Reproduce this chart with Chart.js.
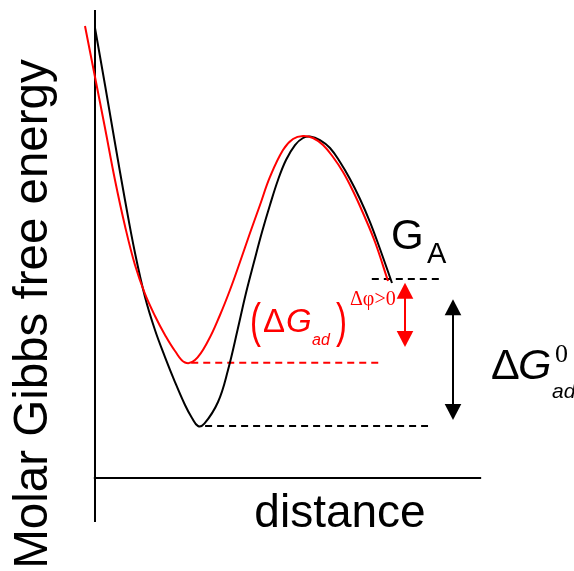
<!DOCTYPE html>
<html><head><meta charset="utf-8">
<script src="https://cdn.jsdelivr.net/npm/chart.js@4"></script>
<style>html,body{margin:0;padding:0;background:#fff;overflow:hidden}#wrap{width:574px;height:571px;position:relative}</style>
</head><body><div id="wrap"><canvas id="c"></canvas></div>
<script>
// ---- data (arbitrary units: distance 0..100 along the x axis, energy 0..100 along the y axis)
const distanceBlack = [0, 2.60, 5.19, 7.79, 10.39, 12.99, 15.58, 18.18, 20.78, 23.38, 25.19, 26.75, 28.40, 31.95, 34.55, 37.14, 39.22, 41.30, 43.38, 45.45, 47.53, 49.61, 51.95, 54.03, 55.84, 58.44, 61.04, 63.64, 66.23, 68.83, 71.43, 74.03, 77.14];
const energyBlack   = [96.15, 83.97, 71.58, 59.40, 48.08, 38.68, 31.62, 25.85, 20.51, 15.60, 12.82, 11.11, 11.60, 16.24, 23.08, 32.05, 39.53, 46.15, 52.56, 58.33, 63.68, 67.95, 71.15, 72.65, 72.97, 72.22, 70.51, 67.52, 63.89, 59.62, 54.70, 48.93, 41.67];
const distanceRed   = [-2.60, 0, 2.60, 5.19, 7.79, 10.39, 12.99, 15.58, 18.18, 20.78, 23.38, 25.97, 29.35, 32.47, 35.06, 37.66, 40.26, 42.86, 45.45, 48.83, 51.43, 54.03, 56.62, 59.22, 61.82, 64.42, 67.01, 69.61, 72.73, 76.10];
const energyRed     = [96.58, 85.68, 74.79, 63.68, 53.85, 45.51, 39.32, 34.62, 30.56, 27.14, 24.68, 25.21, 29.27, 34.83, 40.17, 46.15, 52.35, 58.33, 64.32, 70.09, 72.44, 73.08, 72.65, 71.15, 68.59, 65.38, 61.32, 56.62, 50.43, 42.09];

// dashed reference levels
const levelNames  = ['G_A', 'dG_ad(dphi>0)', 'dG0_ad'];
const levelEnergy = [42.5, 24.64, 11.11];
const levelStart  = [71.9, 25.0, 28.6];
const levelEnd    = [90.4, 74.8, 86.5];

// double arrows
const arrowNames    = ['dG_ad(dphi>0)', 'dG0_ad'];
const arrowDistance = [80.5, 93.0];
const arrowTop      = [41.7, 38.2];
const arrowBottom   = [28.0, 12.4];

// axis lines
const axisYDistance = [0, 0];
const axisYEnergy   = [-9.4, 100];
const axisXDistance = [-0.3, 100.3];
const axisXEnergy   = [0, 0];

// visible window
const X_MIN = -24.675, X_MAX = 124.416;
const Y_MIN = -19.872, Y_MAX = 102.137;

const zip = (xs, ys) => xs.map((x, i) => ({x, y: ys[i]}));
const RED = '#ff0000', BLACK = '#000000';
const levelColors = [BLACK, RED, BLACK];
const arrowColors = [RED, BLACK];

const datasets = [];
levelNames.forEach((n, i) => datasets.push({
  label: n, data: zip([levelStart[i], levelEnd[i]], [levelEnergy[i], levelEnergy[i]]),
  borderColor: levelColors[i], borderWidth: 2, borderDash: [7, 5], pointRadius: 0, tension: 0, order: 5
}));
datasets.push({label: 'yaxis', data: zip(axisYDistance, axisYEnergy), borderColor: BLACK, borderWidth: 2, pointRadius: 0, order: 4});
datasets.push({label: 'xaxis', data: zip(axisXDistance, axisXEnergy), borderColor: BLACK, borderWidth: 2, pointRadius: 0, order: 4});
datasets.push({label: 'black', data: zip(distanceBlack, energyBlack), borderColor: BLACK, borderWidth: 2, pointRadius: 0, tension: 0.4, order: 2});
datasets.push({label: 'red', data: zip(distanceRed, energyRed), borderColor: RED, borderWidth: 2, pointRadius: 0, tension: 0.4, order: 1});

function text(ctx, s, x, y, font, color, align) {
  ctx.font = font; ctx.fillStyle = color; ctx.textAlign = align || 'left'; ctx.textBaseline = 'alphabetic';
  ctx.fillText(s, x, y);
}
function paren(ctx, s, x, y, color) {
  ctx.save(); ctx.translate(x, y); ctx.scale(1, 1.48);
  text(ctx, s, 0, 0, '33px "Liberation Sans"', color); ctx.restore();
}

const decor = {
  id: 'decor',
  afterDatasetsDraw(chart) {
    const ctx = chart.ctx, xs = chart.scales.x, ys = chart.scales.y;
    ctx.save();
    // arrows
    arrowDistance.forEach((d, i) => {
      const x = Math.round(xs.getPixelForValue(d));
      const y1 = ys.getPixelForValue(arrowTop[i]), y2 = ys.getPixelForValue(arrowBottom[i]);
      const c = arrowColors[i], hl = 16, hw = 8.3;
      ctx.strokeStyle = c; ctx.fillStyle = c; ctx.lineWidth = 2;
      ctx.beginPath(); ctx.moveTo(x, y1 + hl - 1); ctx.lineTo(x, y2 - hl + 1); ctx.stroke();
      ctx.beginPath(); ctx.moveTo(x, y1); ctx.lineTo(x - hw, y1 + hl); ctx.lineTo(x + hw, y1 + hl); ctx.closePath(); ctx.fill();
      ctx.beginPath(); ctx.moveTo(x, y2); ctx.lineTo(x - hw, y2 - hl); ctx.lineTo(x + hw, y2 - hl); ctx.closePath(); ctx.fill();
    });
    // axis titles
    ctx.save(); ctx.translate(46.5, 314); ctx.rotate(-Math.PI / 2);
    text(ctx, 'Molar Gibbs free energy', 0, 0, '47.5px "Liberation Sans"', BLACK, 'center');
    ctx.restore();
    text(ctx, 'distance', 340, 527, '46px "Liberation Sans"', BLACK, 'center');
    // G_A
    text(ctx, 'G', 391, 249, '42px "Liberation Sans"', BLACK);
    text(ctx, 'A', 427, 263, '29px "Liberation Sans"', BLACK);
    // red (ΔG_ad)^{Δφ>0}
    paren(ctx, '(', 250, 337, RED);
    text(ctx, 'Δ', 263, 332, '33px "Liberation Sans"', RED);
    text(ctx, 'G', 286, 332, 'italic 33px "Liberation Sans"', RED);
    text(ctx, 'ad', 312, 345, 'italic 16px "Liberation Sans"', RED);
    paren(ctx, ')', 336, 337, RED);
    text(ctx, 'Δφ>0', 350, 305, '20px "Liberation Serif"', RED);
    // black ΔG^0_ad
    text(ctx, 'Δ', 491, 379, '43px "Liberation Sans"', BLACK);
    text(ctx, 'G', 518, 379, 'italic 43px "Liberation Sans"', BLACK);
    text(ctx, '0', 555, 362, '26px "Liberation Serif"', BLACK);
    text(ctx, 'ad', 552, 398, 'italic 21px "Liberation Sans"', BLACK);
    ctx.restore();
  }
};

new Chart(document.getElementById('c'), {
  type: 'line',
  data: {datasets},
  options: {
    responsive: true, maintainAspectRatio: false, animation: false,
    layout: {padding: 0},
    plugins: {legend: {display: false}, tooltip: {enabled: false}, title: {display: false}},
    scales: {
      x: {type: 'linear', min: X_MIN, max: X_MAX, display: false},
      y: {type: 'linear', min: Y_MIN, max: Y_MAX, display: false}
    },
    elements: {line: {fill: false}}
  },
  plugins: [decor]
});
</script></body></html>
